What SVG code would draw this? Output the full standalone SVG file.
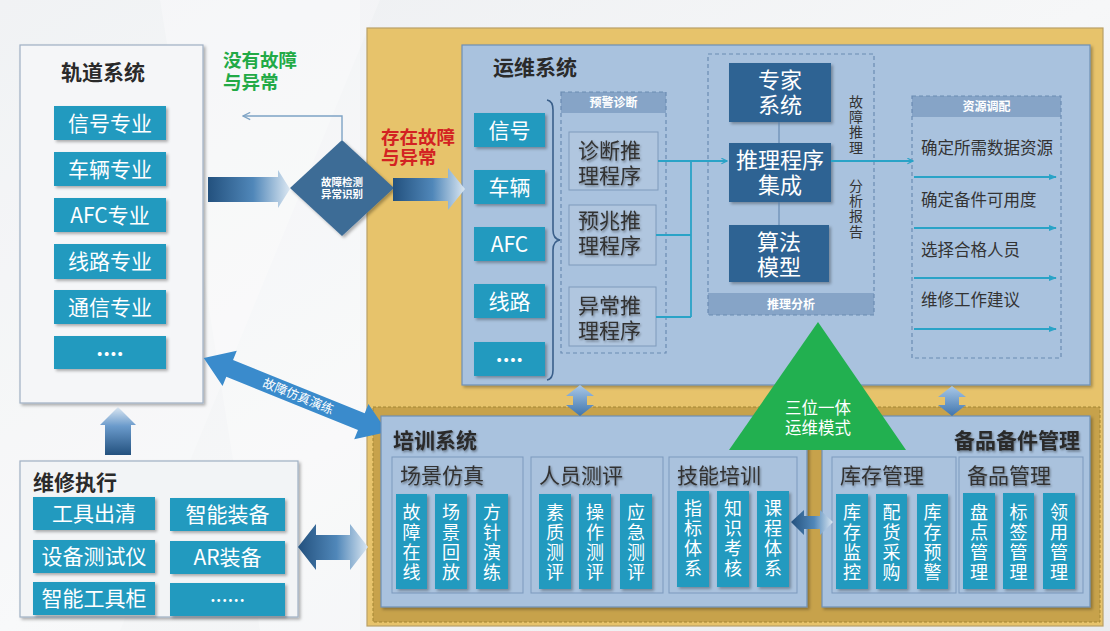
<svg xmlns="http://www.w3.org/2000/svg" width="1110" height="631" viewBox="0 0 1110 631">
<defs>
<style>
text{font-family:"Noto Sans CJK SC","Liberation Sans",sans-serif;}
.teal{fill:#229abf;filter:url(#sh);}
.wt{fill:#fff;font-size:21px;text-anchor:middle;}
.vt{fill:#fff;font-size:18px;text-anchor:middle;writing-mode:vertical-rl;text-orientation:upright;letter-spacing:2px;}
.ttl{fill:#2a2a2a;font-size:21px;font-weight:700;}
.sub{fill:#333;font-size:21px;filter:url(#tsh);}
.panel{fill:#a9c2de;stroke:#6f8fb5;stroke-width:1.2;filter:url(#sh);}
.subbox{fill:#aac2dd;stroke:#7d99bd;stroke-width:1;}
.inner{fill:#b0c6df;stroke:#7f9abb;stroke-width:1;}
.dash{fill:none;stroke:#6b8bb2;stroke-width:1.2;stroke-dasharray:4 3;}
.band{fill:#86a4c7;}
.bandt{fill:#fff;font-size:12px;font-weight:700;text-anchor:middle;}
.dark{fill:#2f6393;filter:url(#sh);}
.dt{fill:#fff;font-size:22px;text-anchor:middle;}
.con{fill:none;stroke:#2aa3c7;stroke-width:1.8;}
.res{fill:#333;font-size:16.5px;}
.vs{fill:#333;font-size:14px;text-anchor:middle;writing-mode:vertical-rl;text-orientation:upright;letter-spacing:1.2px;}
</style>
<filter id="sh" x="-10%" y="-10%" width="130%" height="130%">
<feDropShadow dx="2" dy="2" stdDeviation="1.8" flood-color="#000" flood-opacity="0.3"/>
</filter>
<filter id="tsh" x="-10%" y="-20%" width="130%" height="150%">
<feDropShadow dx="1" dy="1.5" stdDeviation="1.2" flood-color="#000" flood-opacity="0.4"/>
</filter>
<linearGradient id="bg" x1="0" y1="0" x2="1" y2="1">
<stop offset="0" stop-color="#eceef1"/>
<stop offset="0.5" stop-color="#f6f7f8"/>
<stop offset="1" stop-color="#eaecef"/>
</linearGradient>
<linearGradient id="gH" x1="0" y1="0" x2="1" y2="0">
<stop offset="0" stop-color="#23517e"/>
<stop offset="0.55" stop-color="#5087b9"/>
<stop offset="1" stop-color="#dbe7f2"/>
</linearGradient>
<linearGradient id="gUp" x1="0" y1="1" x2="0" y2="0">
<stop offset="0" stop-color="#23517e"/>
<stop offset="0.6" stop-color="#6a9acb"/>
<stop offset="1" stop-color="#dbe7f2"/>
</linearGradient>
<linearGradient id="gV" x1="0" y1="0" x2="0" y2="1">
<stop offset="0" stop-color="#a9c8e8"/>
<stop offset="1" stop-color="#3f75ad"/>
</linearGradient>
<marker id="chev" viewBox="0 0 10 10" refX="9" refY="5" markerWidth="7" markerHeight="7" markerUnits="userSpaceOnUse" orient="auto">
<path d="M1,1 L9,5 L1,9" fill="none" stroke="#2aa3c7" stroke-width="1.6"/>
</marker>
<marker id="chevG" viewBox="0 0 10 10" refX="9" refY="5" markerWidth="9" markerHeight="9" markerUnits="userSpaceOnUse" orient="auto">
<path d="M1,1 L9,5 L1,9" fill="none" stroke="#7ea3c5" stroke-width="1.4"/>
</marker>
<marker id="tri" viewBox="0 0 10 10" refX="9" refY="5" markerWidth="8" markerHeight="8" markerUnits="userSpaceOnUse" orient="auto">
<path d="M0,1 L10,5 L0,9 Z" fill="#2aa3c7"/>
</marker>
</defs>

<!-- background -->
<rect x="0" y="0" width="1110" height="631" fill="url(#bg)"/>
<polygon points="0,0 380,0 120,631 0,631" fill="#ffffff" opacity="0.25"/>
<polygon points="160,0 360,0 360,631 260,631" fill="#ffffff" opacity="0.3"/>

<!-- big yellow area -->
<g id="ops-area">
<rect x="367" y="28" width="736" height="598" fill="#e7c36b" stroke="#b9a066" stroke-width="1.2"/>
<rect x="373" y="407" width="727" height="215" fill="#c7a24b" stroke="#a38635" stroke-width="1" stroke-dasharray="3 2"/>
</g>

<!-- 轨道系统 -->
<g id="track-system">
<rect x="20" y="45" width="183" height="358" fill="#f5f6f8" stroke="#9fb0c4" stroke-width="1.2" filter="url(#sh)"/>
<text class="ttl" x="103" y="79.5" text-anchor="middle">轨道系统</text>
<rect class="teal" x="54" y="106" width="112" height="34"/>
<text class="wt" x="110" y="130.5">信号专业</text>
<rect class="teal" x="54" y="152" width="112" height="34"/>
<text class="wt" x="110" y="176.5">车辆专业</text>
<rect class="teal" x="54" y="198" width="112" height="34"/>
<text class="wt" x="110" y="222.5">AFC专业</text>
<rect class="teal" x="54" y="244" width="112" height="35"/>
<text class="wt" x="110" y="268.5">线路专业</text>
<rect class="teal" x="54" y="290" width="112" height="34"/>
<text class="wt" x="110" y="314.5">通信专业</text>
<rect class="teal" x="54" y="336" width="112" height="33"/>
<text class="wt" x="110" y="356" font-size="18" font-weight="700">....</text>
</g>

<!-- labels -->
<g id="label-no-fault">
<text x="223" y="66.5" fill="#22aa46" font-size="18.5" font-weight="700">没有故障</text>
<text x="223" y="88.5" fill="#22aa46" font-size="18.5" font-weight="700">与异常</text>
</g>
<g id="label-fault">
<text x="381" y="143.5" fill="#d32222" font-size="18.5" font-weight="700">存在故障</text>
<text x="381" y="163.5" fill="#d32222" font-size="18.5" font-weight="700">与异常</text>
</g>

<!-- diamond -->
<g id="detect">
<polygon points="342,140 394,188 342,236 290,188" fill="#3e6c96" filter="url(#sh)"/>
<text x="342" y="186" fill="#fff" font-size="10.5" font-weight="700" text-anchor="middle">故障检测</text>
<text x="342" y="197.5" fill="#fff" font-size="10.5" font-weight="700" text-anchor="middle">异常识别</text>
</g>

<!-- 运维系统 -->
<g id="om-system">
<rect class="panel" x="462" y="45" width="628" height="340"/>
<text class="ttl" x="493" y="74.5">运维系统</text>
<rect class="teal" x="474" y="113" width="71" height="34"/>
<text class="wt" x="509.5" y="137.5">信号</text>
<rect class="teal" x="474" y="170" width="71" height="34"/>
<text class="wt" x="509.5" y="194.5">车辆</text>
<rect class="teal" x="474" y="227" width="71" height="34"/>
<text class="wt" x="509.5" y="251.5">AFC</text>
<rect class="teal" x="474" y="284" width="71" height="34"/>
<text class="wt" x="509.5" y="308.5">线路</text>
<rect class="teal" x="474" y="342" width="71" height="34"/>
<text class="wt" x="509.5" y="362" font-size="18" font-weight="700">....</text>
<path d="M547,100 Q553,101 553,110 L553,230 Q553,239 560,240 Q553,241 553,250 L553,370 Q553,379 547,380" fill="none" stroke="#3a5f8a" stroke-width="1.6"/>
</g>

<g id="warning-diagnosis">
<rect x="561" y="92" width="105" height="21" class="band"/>
<rect x="561" y="92" width="105" height="261" class="dash"/>
<text class="bandt" x="613.5" y="107">预警诊断</text>
<rect class="inner" x="569" y="132" width="89" height="58"/>
<text class="sub" x="578" y="157.5">诊断推</text>
<text class="sub" x="578" y="182.5">理程序</text>
<rect class="inner" x="569" y="205" width="87" height="60"/>
<text class="sub" x="578" y="227.5">预兆推</text>
<text class="sub" x="578" y="252.5">理程序</text>
<rect class="inner" x="569" y="287" width="87" height="59"/>
<text class="sub" x="578" y="312.5">异常推</text>
<text class="sub" x="578" y="337.5">理程序</text>
</g>

<g id="reasoning-analysis">
<rect x="708" y="293" width="166" height="22" class="band"/>
<rect x="708" y="54" width="166" height="261" class="dash"/>
<text class="bandt" x="791" y="308.5">推理分析</text>
<rect class="dark" x="729" y="63" width="102" height="59"/>
<text class="dt" x="780" y="88">专家</text>
<text class="dt" x="780" y="113">系统</text>
<rect class="dark" x="729" y="143" width="102" height="59"/>
<text class="dt" x="780" y="168">推理程序</text>
<text class="dt" x="780" y="193">集成</text>
<rect class="dark" x="729" y="225" width="100" height="57"/>
<text class="dt" x="779" y="250">算法</text>
<text class="dt" x="779" y="275">模型</text>
<text class="vs" x="856" y="125">故障推理</text>
<text class="vs" x="856" y="209">分析报告</text>
</g>

<g id="resource-dispatch">
<rect x="912" y="96" width="149" height="21" class="band"/>
<rect x="912" y="96" width="149" height="262" class="dash"/>
<text class="bandt" x="986.5" y="111">资源调配</text>
<text class="res" x="921" y="154">确定所需数据资源</text>
<text class="res" x="921" y="206">确定备件可用度</text>
<text class="res" x="921" y="256">选择合格人员</text>
<text class="res" x="921" y="306">维修工作建议</text>
</g>

<!-- 维修执行 -->
<g id="maintenance">
<rect x="20" y="461" width="278" height="156" fill="#f2f4f6" stroke="#9fb0c4" stroke-width="1.2" filter="url(#sh)"/>
<text class="ttl" x="33" y="489.5">维修执行</text>
<rect class="teal" x="33" y="497" width="122" height="33"/>
<text class="wt" x="94" y="521">工具出清</text>
<rect class="teal" x="170" y="498" width="115" height="33"/>
<text class="wt" x="227.5" y="522">智能装备</text>
<rect class="teal" x="33" y="540" width="122" height="33"/>
<text class="wt" x="94" y="564">设备测试仪</text>
<rect class="teal" x="170" y="541" width="115" height="33"/>
<text class="wt" x="227.5" y="565">AR装备</text>
<rect class="teal" x="33" y="582" width="122" height="33"/>
<text class="wt" x="94" y="606">智能工具柜</text>
<rect class="teal" x="170" y="583" width="115" height="33"/>
<text class="wt" x="227.5" y="602" font-size="16">......</text>
</g>

<!-- diagonal arrow drawn below training panel -->
<g id="sim-arrow">
<g transform="translate(295.5,395) rotate(22)">
<polygon points="-99,0 -71,-19 -71,-9 71,-9 71,-19 99,0 71,19 71,9 -71,9 -71,19" fill="#3a8bcc"/>
<text x="3" y="4.5" fill="#fff" font-size="12.5" text-anchor="middle">故障仿真演练</text>
</g>
</g>

<!-- 培训系统 -->
<g id="training">
<rect class="panel" x="381" y="416" width="426" height="191"/>
<text class="ttl" x="393" y="447.5" filter="url(#tsh)">培训系统</text>
<rect class="subbox" x="392" y="457" width="131" height="136"/>
<text class="sub" x="400" y="482.5">场景仿真</text>
<rect class="subbox" x="531" y="457" width="132" height="136"/>
<text class="sub" x="539" y="482.5">人员测评</text>
<rect class="subbox" x="669" y="457" width="128" height="136"/>
<text class="sub" x="677" y="482.5">技能培训</text>

<rect class="teal" x="396" y="494" width="31" height="95"/>
<text class="vt" x="411.5" y="543">故障在线</text>
<rect class="teal" x="435" y="494" width="32" height="95"/>
<text class="vt" x="451" y="543">场景回放</text>
<rect class="teal" x="476" y="494" width="32" height="95"/>
<text class="vt" x="492" y="543">方针演练</text>

<rect class="teal" x="539" y="494" width="32" height="95"/>
<text class="vt" x="555" y="543">素质测评</text>
<rect class="teal" x="579" y="494" width="32" height="95"/>
<text class="vt" x="595" y="543">操作测评</text>
<rect class="teal" x="620" y="494" width="32" height="95"/>
<text class="vt" x="636" y="543">应急测评</text>

<rect class="teal" x="677" y="491" width="32" height="96"/>
<text class="vt" x="693" y="539">指标体系</text>
<rect class="teal" x="717" y="491" width="32" height="96"/>
<text class="vt" x="733" y="539">知识考核</text>
<rect class="teal" x="757" y="491" width="32" height="96"/>
<text class="vt" x="773" y="539">课程体系</text>
</g>

<!-- 备品备件管理 -->
<g id="spare-parts">
<rect class="panel" x="822" y="416" width="268" height="191"/>
<text class="ttl" x="1080" y="447.5" text-anchor="end" filter="url(#tsh)">备品备件管理</text>
<rect class="subbox" x="832" y="457" width="124" height="136"/>
<text class="sub" x="840" y="482.5">库存管理</text>
<rect class="subbox" x="959" y="457" width="124" height="136"/>
<text class="sub" x="967" y="482.5">备品管理</text>

<rect class="teal" x="836" y="494" width="32" height="95"/>
<text class="vt" x="852" y="543">库存监控</text>
<rect class="teal" x="876" y="494" width="31" height="95"/>
<text class="vt" x="891.5" y="543">配货采购</text>
<rect class="teal" x="917" y="494" width="31" height="95"/>
<text class="vt" x="932.5" y="543">库存预警</text>

<rect class="teal" x="963" y="493" width="32" height="96"/>
<text class="vt" x="979" y="543">盘点管理</text>
<rect class="teal" x="1003" y="493" width="31" height="96"/>
<text class="vt" x="1018.5" y="543">标签管理</text>
<rect class="teal" x="1043" y="493" width="32" height="96"/>
<text class="vt" x="1059" y="543">领用管理</text>
</g>

<!-- connectors -->
<g id="connectors">
<path d="M342,140 L342,116 L243,116" fill="none" stroke="#7ea3c5" stroke-width="1.4" marker-end="url(#chevG)"/>
<polygon points="208,177 278,177 278,170 290,189 278,208 278,202 208,202" fill="url(#gH)"/>
<polygon points="393,178 448,178 448,168 465,189 448,210 448,201 393,201" fill="url(#gH)"/>
<polygon points="118,407 136,425 131,425 131,455 105,455 105,425 100,425" fill="url(#gUp)"/>
<polygon points="298,547 316,524 316,535 350,535 350,524 368,547 350,570 350,560 316,560 316,570" fill="url(#gH)"/>
<polygon points="791,522 804,510 804,516 820,516 820,510 833,522 820,535 820,529 804,529 804,535" fill="url(#gH)"/>
<polygon points="580,385 594,396 587,396 587,405 594,405 580,416 566,405 573,405 573,396 566,396" fill="url(#gV)"/>
<polygon points="952,386 966,397 959,397 959,405 966,405 952,416 938,405 945,405 945,397 938,397" fill="url(#gV)"/>
<path class="con" d="M658,161 L691,161 M656,235 L691,235 M656,317 L691,317 M691,161 L691,317"/>
<path class="con" d="M691,161 L727,161" marker-end="url(#chev)"/>
<path class="con" d="M831,161 L913,161" marker-end="url(#chev)"/>
<path d="M779,122 L779,143 M779,202 L779,225" stroke="#5a80aa" stroke-width="1"/>
<path class="con" d="M914,177 L1056,177" marker-end="url(#tri)"/>
<path class="con" d="M914,228 L1056,228" marker-end="url(#tri)"/>
<path class="con" d="M914,278 L1056,278" marker-end="url(#tri)"/>
<path class="con" d="M914,329 L1056,329" marker-end="url(#tri)"/>
</g>

<!-- triangle -->
<g id="trinity">
<polygon points="818,322 729,450 906,450" fill="#22b050"/>
<text x="818" y="414" fill="#fff" font-size="16.5" text-anchor="middle">三位一体</text>
<text x="818" y="434" fill="#fff" font-size="16.5" text-anchor="middle">运维模式</text>
</g>
</svg>
